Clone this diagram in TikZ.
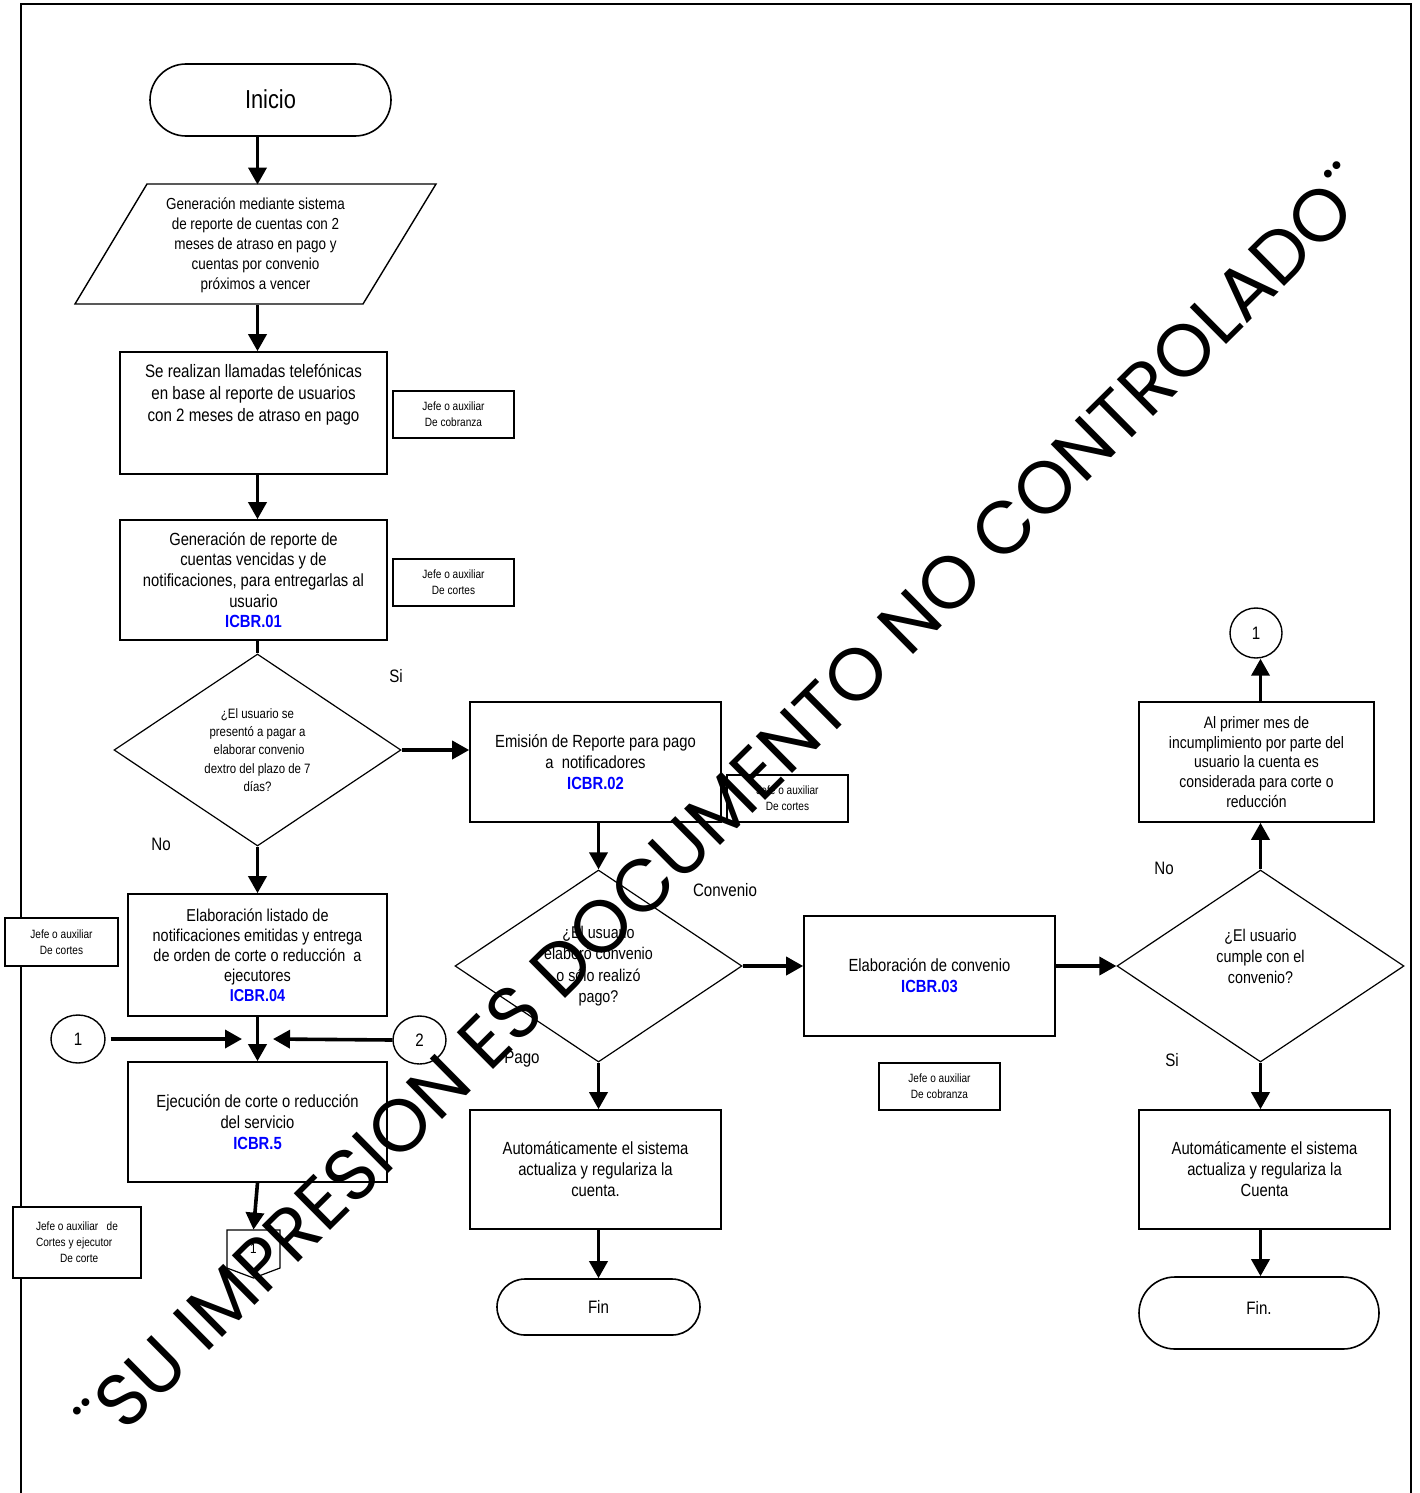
\documentclass[tikz,border=0pt]{standalone}
\usepackage{fontspec}
\setmainfont[FakeStretch=0.84]{Liberation Sans}
\newfontfamily\wmfont{Poppins}
\usetikzlibrary{arrows.meta,shapes.geometric,shapes.misc}
\definecolor{icbrblue}{RGB}{0,0,255}
\newcommand{\icbr}[1]{\textcolor{icbrblue}{\bfseries #1}}
\begin{document}
\begin{tikzpicture}[x=0.5pt,y=-0.5pt,
  frameline/.style={line width=1pt},
  proc/.style={draw, line width=0.8pt, fill=white, rectangle, inner sep=0pt, align=center, font=\fontsize{8.8}{10.5}\selectfont},
  role/.style={draw, line width=0.7pt, fill=white, rectangle, inner sep=0pt, align=center, font=\fontsize{6}{8}\selectfont},
  decision/.style={draw, diamond, line width=0.6pt, inner sep=0pt, align=center, minimum width=143.5pt, minimum height=96pt},
  term/.style={draw, rounded rectangle, line width=0.8pt, inner sep=0pt, font=\fontsize{9}{11}\selectfont},
  conn/.style={draw, ellipse, line width=0.7pt, inner sep=0pt, font=\fontsize{9}{11}\selectfont},
  flow/.style={line width=1.8pt, -{Triangle[length=8.5pt,width=9pt]}},
  plainline/.style={line width=1.8pt},
  tag/.style={font=\fontsize{9}{11}\selectfont, inner sep=0pt},
  watermark/.style={font=\wmfont\fontsize{37}{37}\selectfont, inner sep=0pt, text height=26pt, text depth=0pt}
]
\useasboundingbox (0,0) rectangle (1419,1493);
\fill[white] (0,0) rectangle (1419,1493);
% frame
\draw[frameline] (21,1493) -- (21,4) -- (1411,4) -- (1411,1493);

% left column
\node[term, minimum width=120.5pt, minimum height=36pt] (ini) at (270.5,100) {\raisebox{1pt}{\fontsize{13}{15}\selectfont Inicio}};
\draw[line width=0.7pt, fill=white] (147,184) -- (436,184) -- (363,304) -- (75,304) -- cycle;
\node[inner sep=0pt, minimum height=60pt, align=center, font=\fontsize{8}{10}\selectfont] (gen) at (255.5,245)
  {Generación mediante sistema\\de reporte de cuentas con 2\\meses de atraso en pago y\\cuentas por convenio\\próximos a vencer};
\node[proc, minimum width=133.5pt, minimum height=61pt] (llam) at (253.5,413) {};
\node[inner sep=0pt, align=center, font=\fontsize{9}{11}\selectfont] (llamtxt) at (253.5,395)
  {Se realizan llamadas telefónicas\\en base al reporte de usuarios\\con 2 meses de atraso en pago};
\node[role, minimum width=60.5pt, minimum height=23.5pt] (r1) at (453.5,414.5) {Jefe o auxiliar\\De cobranza};
\node[proc, minimum width=133.5pt, minimum height=60pt, font=\fontsize{8.8}{10.3}\selectfont] (gencta) at (253.5,580)
  {Generación de reporte de\\cuentas vencidas y de\\notificaciones, para entregarlas al\\usuario\\\icbr{ICBR.01}};
\node[role, minimum width=60.5pt, minimum height=23.5pt] (r2) at (453.5,582.5) {Jefe o auxiliar\\De cortes};
\node[decision, font=\fontsize{6.8}{9.2}\selectfont] (d1) at (257.5,750)
  {¿El usuario se\\presentó a pagar a\\\ elaborar convenio\\dextro del plazo de 7\\días?};
\node[proc, minimum width=129.5pt, minimum height=61pt, font=\fontsize{8.6}{10}\selectfont] (list) at (257.5,955)
  {Elaboración listado de\\notificaciones emitidas y entrega\\de orden de corte o reducción\ \ a\\ejecutores\\\icbr{ICBR.04}};
\node[role, minimum width=56.5pt, minimum height=24pt] (r5) at (61.5,942) {Jefe o auxiliar\\De cortes};
\node[conn, minimum width=27pt, minimum height=24pt] (c1l) at (78,1039) {1};
\node[conn, minimum width=26.5pt, minimum height=24pt] (c2) at (419.5,1040) {2};
\coordinate (m1) at (242,1039);
\coordinate (m2) at (273,1039);
\node[proc, minimum width=129.5pt, minimum height=60pt] (ejec) at (257.5,1122)
  {Ejecución de corte o reducción\\del servicio\\\icbr{ICBR.5}};
\node[role, minimum width=64pt, minimum height=35.5pt, align=left] (r6) at (77,1242.5)
  {Jefe o auxiliar\ \ \ de\\Cortes y ejecutor\\\hspace{12pt}De corte};
\draw[line width=0.6pt] (227,1230) -- (280,1230) -- (280,1268) -- (253.5,1278) -- (227,1268) -- cycle;
\node[inner sep=0pt, minimum width=26.5pt, minimum height=19pt, font=\fontsize{7}{8}\selectfont] (oc) at (253.5,1249) {1};

% middle column
\node[proc, minimum width=125.5pt, minimum height=60pt] (emis) at (595.5,762)
  {Emisión de Reporte para pago\\a\ \ notificadores\\\icbr{ICBR.02}};
\node[role, minimum width=60.5pt, minimum height=23.5pt] (r3) at (787.5,798.5) {Jefe o auxiliar\\De cortes};
\node[decision, font=\fontsize{8.5}{10.6}\selectfont] (d2) at (598.5,966)
  {¿El usuario\\elaboró convenio\\o sólo realizó\\pago?};
\node[proc, minimum width=125.5pt, minimum height=59.5pt] (auto1) at (595.5,1169.5)
  {Automáticamente el sistema\\actualiza y regulariza la\\cuenta.};
\node[term, minimum width=101.5pt, minimum height=28pt] (fin1) at (598.5,1307) {Fin};
\node[proc, minimum width=125.5pt, minimum height=60pt] (conv) at (929.5,976)
  {Elaboración de convenio\\\icbr{ICBR.03}};
\node[role, minimum width=60.5pt, minimum height=23.5pt] (r4) at (939.5,1086.5) {Jefe o auxiliar\\De cobranza};

% right column
\node[decision, font=\fontsize{8.5}{10.6}\selectfont] (d3) at (1260.5,966)
  {¿El usuario\\cumple con el\\convenio?\\[-1pt]\mbox{}};
\node[proc, minimum width=117.5pt, minimum height=60pt, font=\fontsize{8.3}{9.9}\selectfont] (prim) at (1256.5,762)
  {Al primer mes de\\incumplimiento por parte del\\usuario la cuenta es\\considerada para corte o\\reducción};
\node[conn, minimum width=26pt, minimum height=25pt] (c1r) at (1256,633) {1};
\node[proc, minimum width=125.5pt, minimum height=59.5pt] (auto2) at (1264.5,1169.5)
  {Automáticamente el sistema\\actualiza y regulariza la\\Cuenta};
\node[term, minimum width=120pt, minimum height=36pt] (fin2) at (1259,1313) {\raisebox{5pt}{Fin.}};

% labels
\node[tag] (si1) at (396,676) {Si};
\node[tag] (no1) at (161,844) {No};
\node[tag] (convl) at (725,890) {Convenio};
\node[tag] (pagol) at (522,1059) {Pago};
\node[tag] (no2) at (1164,868) {No};
\node[tag] (si2) at (1172,1060) {Si};

% connectors
\draw[flow] (ini.south -| ejec.north) -- (gen.north -| ejec.north);
\draw[flow] (gen.south -| ejec.north) -- (llam.north -| ejec.north);
\draw[flow] (llam.south -| ejec.north) -- (gencta.north -| ejec.north);
\draw[plainline] (gencta.south -| d1.north) -- (d1.north);
\draw[flow] (d1.east) -- (d1.east -| emis.west);
\draw[flow] (d1.south) -- (list.north);
\draw[flow] (list.south) -- (ejec.north);
\draw[flow] ([xshift=2.5pt]c1l.east) -- (m1);
\draw[flow] (c2.west) -- (m2);
\draw[flow] (ejec.south) -- (oc.north);
\draw[flow] (emis.south -| d2.north) -- (d2.north);
\draw[flow] (d2.east) -- (d2.east -| conv.west);
\draw[flow] (d2.south) -- (auto1.north -| d2.south);
\draw[flow] (auto1.south -| d2.south) -- (fin1.north -| d2.south);
\draw[flow] (conv.east |- d3.west) -- (d3.west);
\draw[flow] (d3.north) -- (prim.south -| d3.north);
\draw[flow] (prim.north -| d3.north) -- (c1r.south -| d3.north);
\draw[flow] (d3.south) -- (auto2.north -| d3.south);
\draw[flow] (auto2.south -| d3.south) -- (fin2.north -| d3.south);

% watermark
\node[watermark, rotate=44.7] (wm) at (724,805) {¨SU IMPRESION ES DOCUMENTO NO CONTROLADO¨};
\end{tikzpicture}
\end{document}
